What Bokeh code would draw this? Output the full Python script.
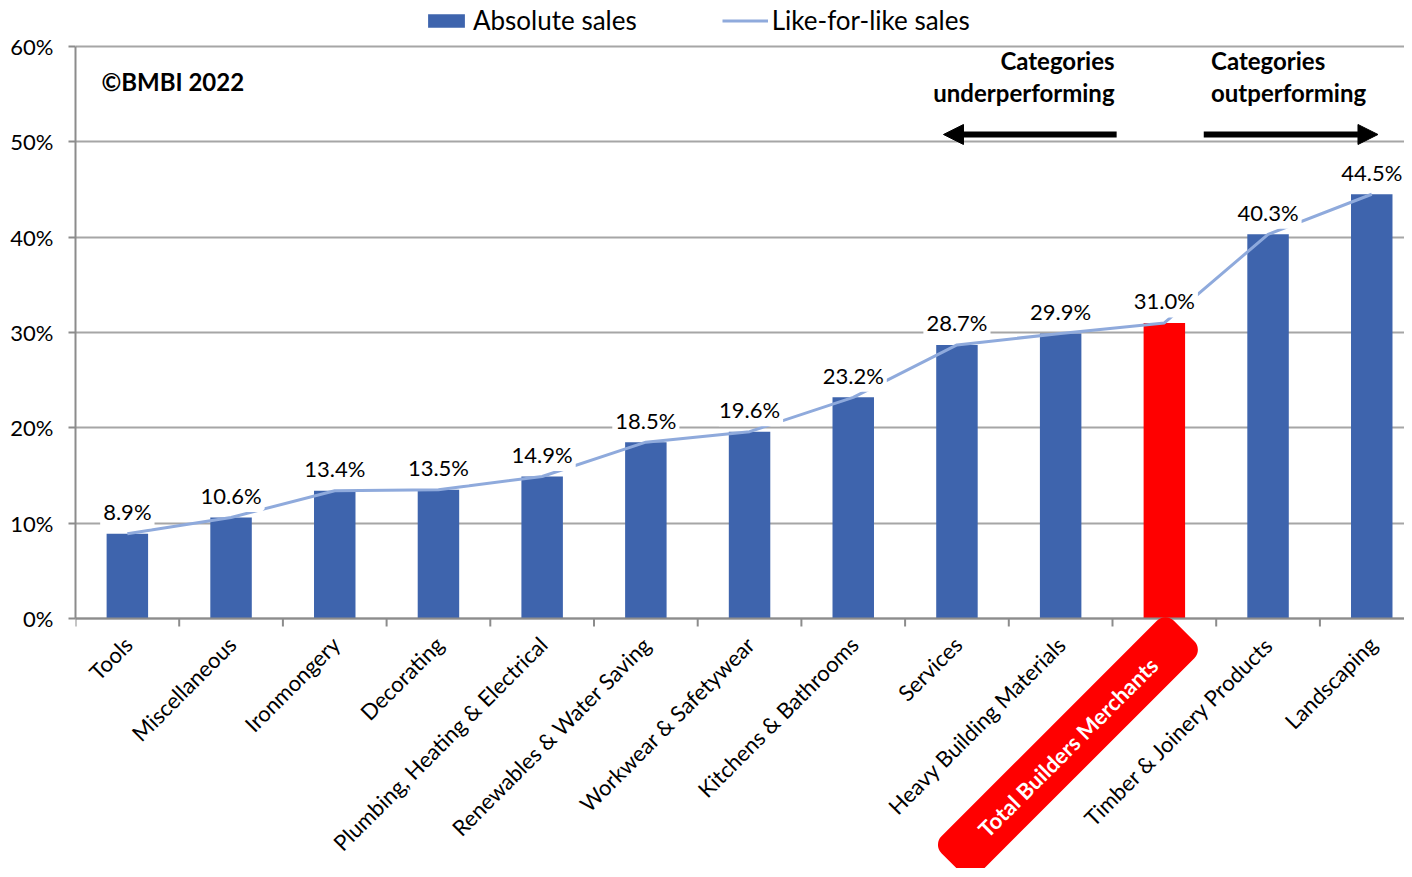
import math
from bokeh.plotting import figure
from bokeh.core.properties import value
from bokeh.models import (ColumnDataSource, FixedTicker, LabelSet, Label, Arrow,
                          NormalHead, Legend, LegendItem, Range1d, Span)
from bokeh.embed import file_html
from bokeh.resources import INLINE

categories = [
    "Tools", "Miscellaneous", "Ironmongery", "Decorating",
    "Plumbing, Heating & Electrical", "Renewables & Water Saving",
    "Workwear & Safetywear", "Kitchens & Bathrooms", "Services",
    "Heavy Building Materials", "Total Builders Merchants",
    "Timber & Joinery Products", "Landscaping",
]
absolute_sales = [8.9, 10.6, 13.4, 13.5, 14.9, 18.5, 19.6, 23.2, 28.7, 29.9, 31.0, 40.3, 44.5]
like_for_like = [8.9, 10.6, 13.4, 13.5, 14.9, 18.5, 19.6, 23.2, 28.7, 29.9, 31.0, 40.3, 44.5]
highlight = "Total Builders Merchants"
y_ticks = [0, 10, 20, 30, 40, 50, 60]
y_tick_labels = ["0%", "10%", "20%", "30%", "40%", "50%", "60%"]

FONT = "Lato"
BLUE = "#3E64AD"
RED = "#FF0000"
LINE = "#8FAADC"
GRID = "#A6A6A6"
AXIS = "#8C8C8C"

W, H = 1404, 868
LEFT, TOP, ZERO = 75, 46, 618   # frame left, 60% line, 0% line (px)
PX_PER_PCT = (ZERO - TOP) / 60.0
CAT_PX = 103.7
n = len(categories)
xs = [i + 0.5 for i in range(n)]
colors = [RED if c == highlight else BLUE for c in categories]
labels = [f"{v:.1f}%" for v in like_for_like]
cat_text = ["" if c == highlight else c for c in categories]
hi_idx = categories.index(highlight)

src = ColumnDataSource(dict(x=xs, zero=[0] * n, abs=absolute_sales, lfl=like_for_like,
                            color=colors, label=labels, cat=cat_text))

y_lo = -(H - ZERO) / PX_PER_PCT
y_hi = 60 + TOP / PX_PER_PCT
p = figure(width=W, height=H, output_backend="svg", toolbar_location=None,
           x_range=Range1d(0, (W - LEFT) / CAT_PX), y_range=Range1d(y_lo, y_hi),
           x_axis_location=None,
           min_border_left=LEFT, min_border_right=0, min_border_top=0,
           min_border_bottom=0)
p.outline_line_color = None
p.background_fill_color = "white"
p.border_fill_color = "white"

# Y axis
p.yaxis.ticker = FixedTicker(ticks=y_ticks)
p.yaxis.bounds = (0, 60)
p.yaxis.major_label_overrides = {t: l for t, l in zip(y_ticks, y_tick_labels)}
p.yaxis.major_label_text_font = FONT
p.yaxis.major_label_text_font_size = "22px"
p.yaxis.major_label_text_color = "#000000"
p.yaxis.axis_line_color = AXIS
p.yaxis.axis_line_width = 2
p.yaxis.major_tick_line_color = AXIS
p.yaxis.major_tick_line_width = 2
p.yaxis.major_tick_out = 7
p.yaxis.major_tick_in = 0
p.yaxis.minor_tick_line_color = None
p.yaxis.major_label_standoff = 15

p.xgrid.visible = False
p.ygrid.ticker = FixedTicker(ticks=y_ticks)
p.ygrid.grid_line_color = GRID
p.ygrid.grid_line_width = 1.8

# Category axis (drawn in the frame so the highlighted label can sit over it)
bounds = list(range(0, n + 1))
p.segment(x0=bounds, y0=[0] * len(bounds), x1=bounds, y1=[-8 / PX_PER_PCT] * len(bounds),
          line_color=AXIS, line_width=2)
p.add_layout(Span(location=0, dimension="width", line_color=AXIS, line_width=2))
p.text(x="x", y="zero", text="cat", source=src, angle=math.pi / 4,
       x_offset=1, y_offset=22, text_align="right", text_baseline="middle",
       text_font=value(FONT), text_font_size="22px", text_color="#000000")

bars = p.vbar(x="x", top="abs", width=0.4, fill_color="color", line_color=None, source=src)
line = p.line(x="x", y="lfl", line_color=LINE, line_width=3, source=src)

p.add_layout(LabelSet(x="x", y="lfl", text="label", source=src, y_offset=22,
                      text_align="center", text_baseline="middle",
                      text_font=value(FONT), text_font_size="22px", text_color="#000000",
                      background_fill_color="white",
                      border_line_color="white", border_line_width=6))

# Highlighted category label
p.add_layout(Label(x=xs[hi_idx] - 0.93, y=-13.5, text=highlight, angle=math.pi / 4,
                   text_align="center", text_baseline="middle",
                   text_font=FONT, text_font_size="22px", text_font_style="bold",
                   text_color="white", background_fill_color=RED,
                   padding=(43, 13), border_radius=12))

# Annotations
bold = dict(text_font=FONT, text_font_size="24px", text_font_style="bold",
            text_color="#000000", text_baseline="middle")
p.add_layout(Label(x=0.25, y=56.3, text="\u00a9BMBI 2022", text_align="left", **bold))
p.add_layout(Label(x=10.02, y=58.5, text="Categories", text_align="right", **bold))
p.add_layout(Label(x=10.02, y=55.2, text="underperforming", text_align="right", **bold))
p.add_layout(Label(x=10.95, y=58.5, text="Categories", text_align="left", **bold))
p.add_layout(Label(x=10.95, y=55.2, text="outperforming", text_align="left", **bold))

p.add_layout(Arrow(end=NormalHead(size=20, fill_color="black", line_color="black"),
                   x_start=10.04, y_start=50.77, x_end=8.37, y_end=50.77,
                   line_width=6, line_color="black"))
p.add_layout(Arrow(end=NormalHead(size=20, fill_color="black", line_color="black"),
                   x_start=10.88, y_start=50.77, x_end=12.56, y_end=50.77,
                   line_width=6, line_color="black"))

legend = Legend(items=[LegendItem(label="Absolute sales", renderers=[bars], index=0),
                       LegendItem(label="Like-for-like sales", renderers=[line])],
                orientation="horizontal", location=(348, H - 36),
                border_line_color=None, background_fill_alpha=0,
                glyph_width=46, glyph_height=17, label_standoff=4, spacing=85,
                padding=0, margin=0,
                label_text_font=FONT, label_text_font_size="26px",
                label_text_color="#000000")
p.add_layout(legend)

open("out.html", "w").write(file_html(p, INLINE))
